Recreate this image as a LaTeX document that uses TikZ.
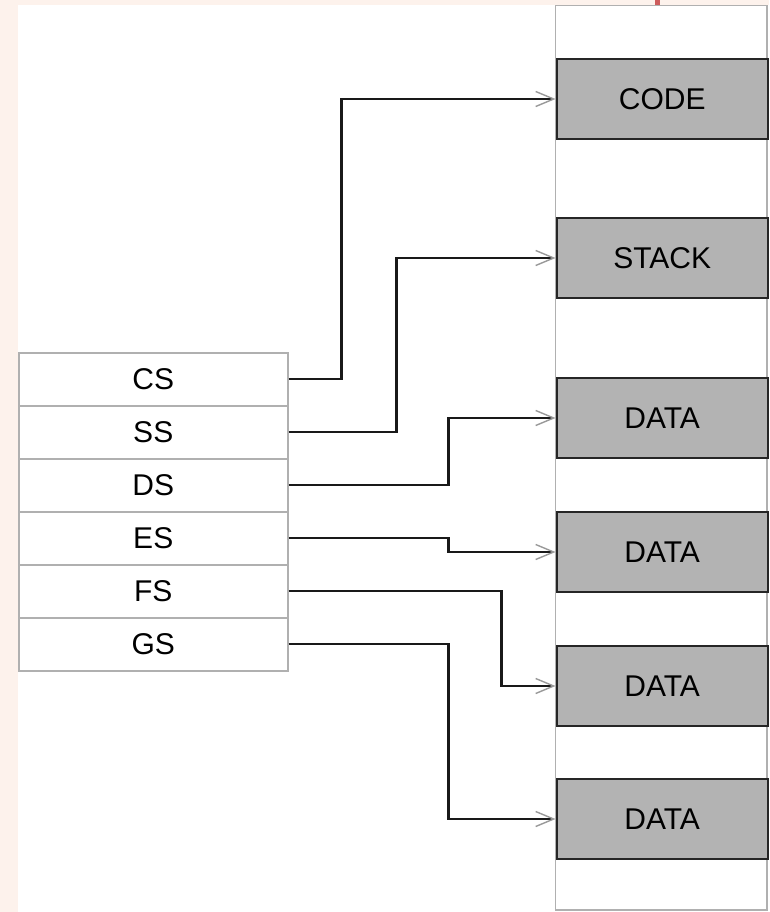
\documentclass[tikz,border=0pt]{standalone}
\usepackage{fontspec}
\setmainfont{Liberation Sans}
\usetikzlibrary{arrows.meta}
\definecolor{bgpink}{HTML}{FDF2EC}
\definecolor{markred}{HTML}{CD5C5C}
\definecolor{segfill}{HTML}{B3B3B3}
\definecolor{thinline}{HTML}{B0B0B0}
\tikzset{
  segbox/.style={draw=black!85, line width=2.4pt, fill=segfill, minimum width=211pt, minimum height=80pt, inner sep=0pt, anchor=west, font=\fontsize{30}{36}\selectfont},
  regbox/.style={draw=thinline, line width=1.5pt, fill=white, minimum width=269pt, minimum height=53pt, inner sep=0pt, anchor=north west, font=\fontsize{30}{36}\selectfont},
  link/.style={draw=black!90, line width=2.4pt, -{Straight Barb[length=18pt,width=15pt,line width=1.4pt,color=black!40]}}
}
\begin{document}
\begin{tikzpicture}[x=1pt,y=-1pt]
\useasboundingbox (0,0) rectangle (769,912);
\fill[bgpink] (0,0) rectangle (769,912);
\fill[white] (18,5) rectangle (769,912);
\fill[markred] (655,0) rectangle (660,5);
% memory column
\draw[draw=thinline, line width=1.5pt, fill=white] (555.5,5.5) rectangle (767,910);
% segments
\node[segbox] (code)  at (555.5,99)  {CODE};
\node[segbox] (stack) at (555.5,258) {STACK};
\node[segbox] (data1) at (555.5,418) {DATA};
\node[segbox] (data2) at (555.5,552) {DATA};
\node[segbox] (data3) at (555.5,686) {DATA};
\node[segbox] (data4) at (555.5,819) {DATA};
% registers
\node[regbox] (cs) at (18,352) {CS};
\node[regbox] (ss) at (18,405) {SS};
\node[regbox] (ds) at (18,458) {DS};
\node[regbox] (es) at (18,511) {ES};
\node[regbox] (fs) at (18,564) {FS};
\node[regbox] (gs) at (18,617) {GS};
% connectors
\draw[link] (cs.east) -- ++(53,0)  |- (code.west);
\draw[link] (ss.east) -- ++(108,0) |- (stack.west);
\draw[link] (ds.east) -- ++(160,0) |- (data1.west);
\draw[link] (es.east) -- ++(160,0) |- (data2.west);
\draw[link] (fs.east) -- ++(213,0) |- (data3.west);
\draw[link] (gs.east) -- ++(160,0) |- (data4.west);
\end{tikzpicture}
\end{document}
